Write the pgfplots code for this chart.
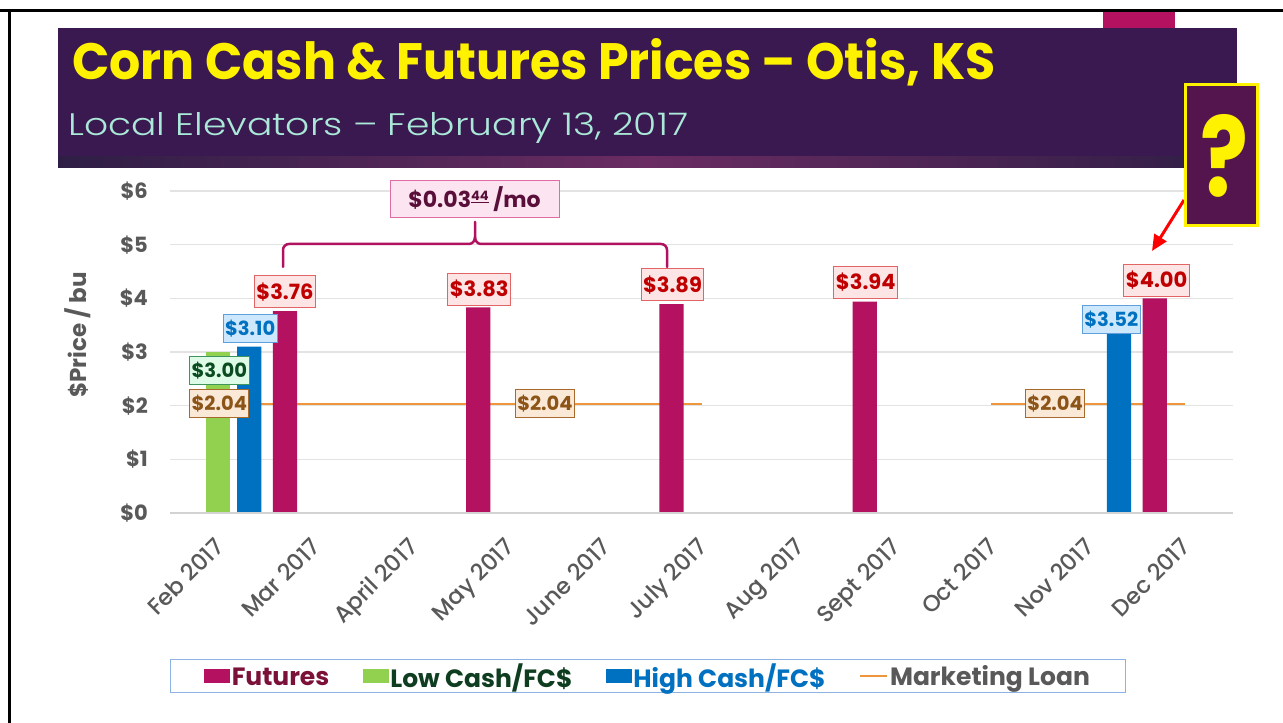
\documentclass[border=0pt]{standalone}
\usepackage{pgfplots}
\pgfplotsset{compat=1.18}
\usepackage{fontspec}
\setmainfont{Poppins}
\newfontfamily\poplight{Poppins Light}
\newfontfamily\popmed{Poppins Medium}
\usetikzlibrary{arrows.meta}
\definecolor{futbar}{RGB}{180,18,96}
\definecolor{lowbar}{RGB}{146,208,80}
\definecolor{highbar}{RGB}{0,112,192}
\definecolor{loanc}{RGB}{238,150,60}
\definecolor{gridc}{RGB}{227,227,227}
\definecolor{axisc}{RGB}{210,210,210}
\definecolor{tickgray}{RGB}{89,89,89}
\definecolor{banner}{RGB}{58,24,80}
\definecolor{stripmid}{RGB}{106,44,99}
\definecolor{stripend}{RGB}{46,30,69}
\definecolor{subtc}{RGB}{170,232,216}
\definecolor{qbox}{RGB}{84,21,79}
\definecolor{futtxt}{RGB}{192,0,0}
\definecolor{futfill}{RGB}{253,229,229}
\definecolor{futdraw}{RGB}{226,100,100}
\definecolor{hightxt}{RGB}{0,112,192}
\definecolor{highfill}{RGB}{205,232,252}
\definecolor{highdraw}{RGB}{95,160,220}
\definecolor{lowtxt}{RGB}{10,75,32}
\definecolor{lowfill}{RGB}{221,251,230}
\definecolor{lowdraw}{RGB}{62,150,95}
\definecolor{loantxt}{RGB}{140,84,23}
\definecolor{loanfill}{RGB}{251,233,215}
\definecolor{loandraw}{RGB}{168,106,44}
\definecolor{bracec}{RGB}{176,18,95}
\definecolor{bracefill}{RGB}{252,228,240}
\definecolor{bracedraw}{RGB}{224,108,166}
\definecolor{bracetxt}{RGB}{90,15,58}
\definecolor{legfut}{RGB}{123,17,56}
\definecolor{leglow}{RGB}{15,61,31}
\definecolor{legborder}{RGB}{141,179,226}
\begin{document}
\begin{tikzpicture}[x=1pt,y=1pt]
\useasboundingbox (0,0) rectangle (1283,723);
\fill[white] (0,0) rectangle (1283,723);
% slide border
\fill[black] (0,711) rectangle (1283,714);
\fill[black] (8,0) rectangle (11,714);
% top magenta tab
\fill[futbar] (1103,695) rectangle (1175,711);
% banner
\fill[banner] (58,566) rectangle (1237,695);
\shade[left color=stripend, right color=stripend, middle color=stripmid] (58,555) rectangle (1237,566);
\node[anchor=base west, inner sep=0pt, text=yellow] at (72,643)
  {\resizebox{923pt}{41pt}{\bfseries Corn Cash \& Futures Prices \textendash{} Otis, KS}};
\node[anchor=base west, inner sep=0pt, text=subtc] at (68,587)
  {\resizebox{620pt}{23pt}{\poplight Local Elevators \textendash{} February 13, 2017}};

\begin{axis}[
  at={(170pt,210pt)}, anchor=south west,
  width=1063pt, height=322pt, scale only axis,
  xmin=-0.5, xmax=10.5, ymin=0, ymax=6,
  clip=false,
  axis line style={draw=none},
  major tick length=0pt,
  ymajorgrids, grid style={gridc, line width=1.2pt},
  xtick={0,...,10},
  xticklabels={Feb 2017, Mar 2017, April 2017, May 2017, June 2017, July 2017, Aug 2017, Sept 2017, Oct 2017, Nov 2017, Dec 2017},
  ytick={0,...,6},
  yticklabels={\$0,\$1,\$2,\$3,\$4,\$5,\$6},
  xticklabel style={xshift=-5pt, yshift=-23pt, rotate=45, anchor=north east, inner sep=0pt,
    font=\popmed\fontsize{23}{25}\selectfont, text=tickgray},
  yticklabel style={xshift=-22pt, anchor=east, inner sep=0pt,
    font=\fontsize{21}{23}\selectfont\bfseries, text=tickgray},
  ylabel={\$Price / bu},
  every axis y label/.style={at={(rel axis cs:-0.0865,0.553)}, rotate=90, anchor=center,
    font=\fontsize{23}{25}\selectfont\bfseries, text=tickgray},
  legend columns=4,
  legend style={at={(0.4495,-0.506)}, anchor=center, draw=legborder, line width=1.2pt,
    inner xsep=34pt, inner ysep=2pt,
    font=\fontsize{25}{27}\selectfont\bfseries,
    nodes={inner xsep=1.5pt, inner ysep=2pt},
    /tikz/every even column/.append style={column sep=32pt}},
  legend cell align=left,
]
% marketing loan line (behind bars)
\addplot[loanc, line width=2pt, mark=none, unbounded coords=jump, forget plot]
  coordinates {(0,2.04) (1,2.04) (2,2.04) (3,2.04) (4,2.04) (5,2.04) (6,nan) (7,nan) (8,2.04) (9,2.04) (10,2.04)};
% futures
\addplot[ybar, bar width=0.25, bar shift=-0.31, fill=futbar, draw=none,
  legend image code/.code={\fill[futbar] (0pt,-7pt) rectangle (26pt,7pt);}]
  coordinates {(1,3.76) (3,3.83) (5,3.89) (7,3.94) (10,4.00)};
\addlegendentry{\textcolor{legfut}{Futures\vphantom{g\$}}}
% low cash
\addplot[ybar, bar width=0.25, bar shift=0, fill=lowbar, draw=none,
  legend image code/.code={\fill[lowbar] (0pt,-7pt) rectangle (26pt,7pt);}]
  coordinates {(0,3.00)};
\addlegendentry{\textcolor{leglow}{Low Cash/FC\$\vphantom{g}}}
% high cash
\addplot[ybar, bar width=0.25, bar shift=0.32, fill=highbar, draw=none,
  legend image code/.code={\fill[highbar] (0pt,-7pt) rectangle (26pt,7pt);}]
  coordinates {(0,3.10) (9,3.52)};
\addlegendentry{\textcolor{highbar}{High Cash/FC\$\vphantom{g}}}
\addlegendimage{legend image code/.code={\draw[loanc, line width=2.5pt] (0pt,0pt) -- (27pt,0pt);}}
\addlegendentry{\textcolor{tickgray}{Marketing Loan\vphantom{\$}}}
% axis baseline
\draw[axisc, line width=1.2pt] (axis cs:-0.5,0) -- (axis cs:10.5,0);
% data labels
\tikzset{lab/.style={fill=#1fill, draw=#1draw, text=#1txt, line width=1pt, inner xsep=2pt, inner ysep=0pt}}
\tikzset{labF/.style={lab=fut, minimum height=32pt, font=\fontsize{21}{23}\selectfont\bfseries}}
\tikzset{labS/.style={lab=#1, minimum height=28pt, font=\fontsize{19.5}{21}\selectfont\bfseries}}
\node[labF] at (axis cs:0.69,4.12) {\$3.76};
\node[labF] at (axis cs:2.70,4.17) {\$3.83};
\node[labF] at (axis cs:4.70,4.25) {\$3.89};
\node[labF] at (axis cs:6.70,4.30) {\$3.94};
\node[labF] at (axis cs:9.71,4.34) {\$4.00};
\node[labS=high] at (axis cs:0.33,3.43) {\$3.10};
\node[labS=high] at (axis cs:9.24,3.60) {\$3.52};
\node[labS=low] at (axis cs:0.01,2.65) {\$3.00};
\node[labS=loan] at (axis cs:0.01,2.04) {\$2.04};
\node[labS=loan] at (axis cs:3.38,2.04) {\$2.04};
\node[labS=loan] at (axis cs:8.66,2.04) {\$2.04};
\end{axis}

% brace
\draw[bracec, line width=2.5pt, line cap=round]
  (283,456) -- (283,473) to[out=90,in=180] (289,479) -- (469,479) to[out=0,in=270] (475,486) -- (475,501);
\draw[bracec, line width=2.5pt, line cap=round]
  (475,486) to[out=270,in=180] (481,479) -- (661,479) to[out=0,in=90] (667,473) -- (667,456);
\node[fill=bracefill, draw=bracedraw, line width=1pt, text=bracetxt, minimum width=169pt, minimum height=37pt,
  inner sep=0pt, font=\fontsize{22}{24}\selectfont\bfseries] at (474.5,523.5)
  {\$0.03\raisebox{7pt}{\fontsize{13}{13}\selectfont\underline{44}} /mo};

% question box and arrow
\draw[->, >={Triangle[length=16pt,width=14pt]}, red, line width=3pt] (1184,523) -- (1152,472);
\fill[qbox] (1185,497) rectangle (1257,638);
\draw[yellow, line width=3pt] (1185,497) rectangle (1257,638);
\node[anchor=base, inner sep=0pt, text=yellow] at (1224,526)
  {\resizebox{48pt}{82pt}{\bfseries ?}};
\end{tikzpicture}
\end{document}
